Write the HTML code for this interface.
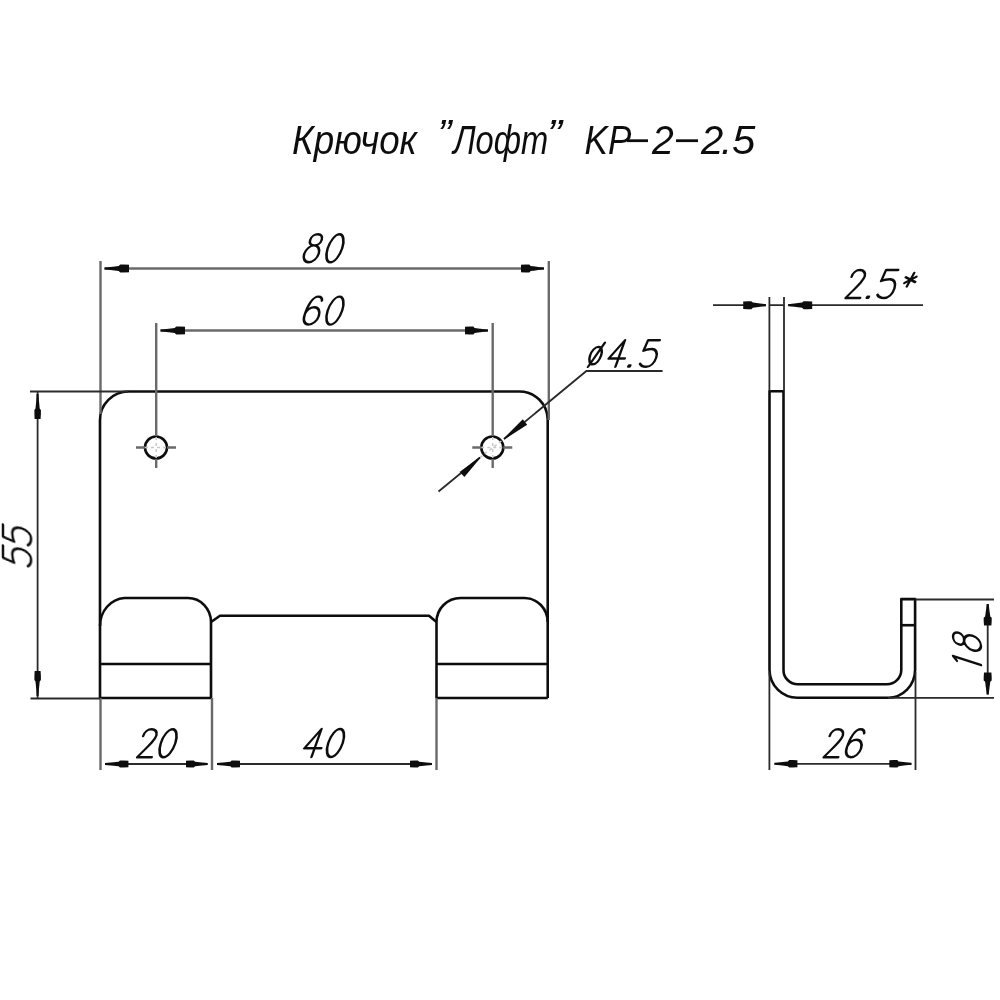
<!DOCTYPE html>
<html><head><meta charset="utf-8"><style>
html,body{margin:0;padding:0;background:#fff;width:1000px;height:1000px;overflow:hidden}
svg{display:block}
text{font-family:"Liberation Sans",sans-serif}
</style></head><body>
<svg width="1000" height="1000" viewBox="0 0 1000 1000">
<defs><filter id="soft" x="0" y="0" width="1000" height="1000" filterUnits="userSpaceOnUse"><feGaussianBlur stdDeviation="0.45"/></filter></defs>
<rect width="1000" height="1000" fill="#fff"/>
<g filter="url(#soft)">
<text transform="translate(292.08,153.5) scale(0.9191,1.03)" font-family="Liberation Sans" font-style="italic" font-size="40" fill="#111">Крючок</text>
<text transform="translate(437.55,148) scale(1.0500,1.0)" font-family="Liberation Sans" font-style="italic" font-size="40" fill="#111">”</text>
<text transform="translate(453.13,153.5) scale(0.8162,1.03)" font-family="Liberation Sans" font-style="italic" font-size="40" fill="#111">Лофт</text>
<text transform="translate(547.12,148) scale(1.1250,1.0)" font-family="Liberation Sans" font-style="italic" font-size="40" fill="#111">”</text>
<text transform="translate(584.62,153.5) scale(0.8750,1.03)" font-family="Liberation Sans" font-style="italic" font-size="40" fill="#111">KP</text>
<rect x="627" y="139.3" width="21" height="2.8" fill="#111"/>
<text transform="translate(652.00,153.5) scale(0.9773,1.03)" font-family="Liberation Sans" font-style="italic" font-size="40" fill="#111">2</text>
<rect x="676" y="139.3" width="22" height="2.8" fill="#111"/>
<text transform="translate(701.00,153.5) scale(1.0000,1.03)" font-family="Liberation Sans" font-style="italic" font-size="40" fill="#111">2</text>
<text transform="translate(721.00,153.5) scale(1.0000,1.0)" font-family="Liberation Sans" font-style="italic" font-size="40" fill="#111">.</text>
<text transform="translate(731.95,153.5) scale(1.0476,1.03)" font-family="Liberation Sans" font-style="italic" font-size="40" fill="#111">5</text>
<g fill="none" stroke="#0d0d0d" stroke-width="2.6" stroke-linejoin="round">
<path d="M100,698 L100,420 A28.5,28.5 0 0 1 128.5,391.5 L519.5,391.5 A28.2,28.2 0 0 1 547.7,419.7 L547.7,698"/>
<path d="M100,626 A26,28 0 0 1 124.5,598 L188,598 A23,24 0 0 1 211,622 L211,698"/>
<path d="M100,664 L211,664 M100,698 L211,698"/>
<path d="M211,622 L220,615.7 L429,615.7 L436.5,622"/>
<path d="M436.5,698 L436.5,622 A24,24 0 0 1 460.5,598 L524.3,598 A23.4,24 0 0 1 547.7,622"/>
<path d="M436.5,664 L547.7,664 M436.5,698 L547.7,698"/>
</g><g fill="none" stroke="#0d0d0d" stroke-width="2.6"><circle cx="156" cy="447.5" r="11"/><circle cx="492.3" cy="447.5" r="11"/>
</g>
<g fill="none" stroke="#6a6a6a" stroke-width="2.4">
<path d="M100.5,261 L100.5,414 M548.8,261 L548.8,420"/>
<path d="M104.5,268.5 L544,268.5"/>
<path d="M156.2,323 L156.2,436 M156.2,459 L156.2,468 M492.7,323 L492.7,436 M492.7,459 L492.7,468"/>
<path d="M160.5,330.5 L488,330.5"/>
<path d="M136,447.5 L145,447.5 M167,447.5 L176,447.5 M472.3,447.5 L481.3,447.5 M503.3,447.5 L512.3,447.5"/>
<path d="M100.5,698 L100.5,770 M212,698 L212,770 M436.5,698 L436.5,770"/>
</g>
<g fill="none" stroke="#c8c8c8" stroke-width="1.5" stroke-dasharray="3 3"><path d="M156.2,437 L156.2,458 M145,447.5 L167,447.5 M492.7,437 L492.7,458 M481.3,447.5 L503.3,447.5 M480,457.5 L504,439"/></g>
<g fill="none" stroke="#2a2a2a" stroke-width="1.8">
<path d="M30,391.5 L128,391.5 M30.5,698.5 L100,698.5"/>
<path d="M37.6,392 L37.6,698"/>
<path d="M105,764 L207.5,764 M217,764 L432,764"/>
<path d="M438.5,491.5 L480,457.5 M504,439 L586.4,371 L662.6,371"/>
</g>
<path d="M104.5,269.5 L110.6,270.1 L118.7,271.1 L120.2,272.5 L124.1,272.5 L129.0,272.2 L129.0,264.8 L124.1,264.5 L120.2,264.5 L118.7,265.9 L110.6,266.9 L104.5,267.5 Z" fill="#111"/>
<path d="M544.0,267.5 L538.2,266.9 L530.7,265.9 L529.3,264.5 L525.6,264.5 L521.0,264.8 L521.0,272.2 L525.6,272.5 L529.3,272.5 L530.7,271.1 L538.2,270.1 L544.0,269.5 Z" fill="#111"/>
<path d="M160.5,331.5 L166.6,332.1 L174.7,333.1 L176.2,334.5 L180.1,334.5 L185.0,334.2 L185.0,326.8 L180.1,326.5 L176.2,326.5 L174.7,327.9 L166.6,328.9 L160.5,329.5 Z" fill="#111"/>
<path d="M488.0,329.5 L482.2,328.9 L474.7,327.9 L473.3,326.5 L469.6,326.5 L465.0,326.8 L465.0,334.2 L469.6,334.5 L473.3,334.5 L474.7,333.1 L482.2,332.1 L488.0,331.5 Z" fill="#111"/>
<path d="M36.6,394.0 L36.3,400.2 L35.5,408.5 L34.4,410.0 L34.4,414.0 L34.6,419.0 L40.6,419.0 L40.9,414.0 L40.9,410.0 L39.7,408.5 L38.9,400.2 L38.6,394.0 Z" fill="#111"/>
<path d="M38.6,696.0 L38.9,689.8 L39.7,681.5 L40.9,680.0 L40.9,676.0 L40.6,671.0 L34.6,671.0 L34.4,676.0 L34.4,680.0 L35.5,681.5 L36.3,689.8 L36.6,696.0 Z" fill="#111"/>
<path d="M105.0,765.0 L110.8,765.4 L118.6,766.3 L120.0,767.5 L123.7,767.5 L128.4,767.2 L128.4,760.8 L123.7,760.5 L120.0,760.5 L118.6,761.7 L110.8,762.6 L105.0,763.0 Z" fill="#111"/>
<path d="M207.6,763.0 L202.2,762.6 L195.1,761.7 L193.8,760.5 L190.3,760.5 L186.0,760.8 L186.0,767.2 L190.3,767.5 L193.8,767.5 L195.1,766.3 L202.2,765.4 L207.6,765.0 Z" fill="#111"/>
<path d="M217.0,765.0 L222.8,765.4 L230.3,766.3 L231.7,767.5 L235.4,767.5 L240.0,767.2 L240.0,760.8 L235.4,760.5 L231.7,760.5 L230.3,761.7 L222.8,762.6 L217.0,763.0 Z" fill="#111"/>
<path d="M432.0,763.0 L426.5,762.6 L419.2,761.7 L417.9,760.5 L414.4,760.5 L410.0,760.8 L410.0,767.2 L414.4,767.5 L417.9,767.5 L419.2,766.3 L426.5,765.4 L432.0,765.0 Z" fill="#111"/>
<path d="M479.7,457.1 L459.6,472.0 L464.4,477.0 L480.3,457.9 Z" fill="#111"/>
<path d="M504.3,439.4 L527.2,424.7 L522.8,419.3 L503.7,438.6 Z" fill="#111"/>
<g transform="translate(301.5,262.3) scale(1.0,0.9650) skewX(-17.223)" fill="none" stroke="#111" stroke-width="2.50" stroke-linecap="round" stroke-linejoin="round"><path transform="translate(0,0)" d="M7.25,-29 C4,-29 1.5,-26.5 1.5,-23.2 C1.5,-20 4,-17.5 7.25,-17.5 C10.5,-17.5 13,-20 13,-23.2 C13,-26.5 10.5,-29 7.25,-29 Z M7.25,-17.5 C3.2,-17.5 0,-13.5 0,-8.75 C0,-3.9 3.2,0 7.25,0 C11.3,0 14.5,-3.9 14.5,-8.75 C14.5,-13.5 11.3,-17.5 7.25,-17.5 Z"/><path transform="translate(21.7,0)" d="M7.25,-29 C3.25,-29 0,-22.5 0,-14.5 C0,-6.5 3.25,0 7.25,0 C11.25,0 14.5,-6.5 14.5,-14.5 C14.5,-22.5 11.25,-29 7.25,-29 Z"/></g>
<g transform="translate(301.5,324.6) scale(1.0,0.9650) skewX(-17.223)" fill="none" stroke="#111" stroke-width="2.50" stroke-linecap="round" stroke-linejoin="round"><path transform="translate(0,0)" d="M12.8,-24.8 C12,-27.8 10,-29 7.8,-29 C2.8,-29 0,-21 0,-10 C0,-3.8 3.2,0 7.25,0 C11.3,0 14.5,-3.9 14.5,-9 C14.5,-14.2 11.3,-18 7.25,-18 C3.8,-18 1,-15.5 0.2,-12"/><path transform="translate(21.7,0)" d="M7.25,-29 C3.25,-29 0,-22.5 0,-14.5 C0,-6.5 3.25,0 7.25,0 C11.25,0 14.5,-6.5 14.5,-14.5 C14.5,-22.5 11.25,-29 7.25,-29 Z"/></g>
<g transform="translate(31,567.5) rotate(-90) scale(1.0,0.9650) skewX(-17.223)" fill="none" stroke="#111" stroke-width="2.50" stroke-linecap="round" stroke-linejoin="round"><path transform="translate(0,0)" d="M13,-29 L0.8,-29 L-0.5,-17.5 C1.8,-19 4.6,-19.5 7.5,-19.5 C12,-19.5 15.2,-15.5 15.2,-9.8 C15.2,-3.8 12,0 8,0 C4.5,0 1.8,-1.3 0.2,-3.4"/><path transform="translate(21,0)" d="M13,-29 L0.8,-29 L-0.5,-17.5 C1.8,-19 4.6,-19.5 7.5,-19.5 C12,-19.5 15.2,-15.5 15.2,-9.8 C15.2,-3.8 12,0 8,0 C4.5,0 1.8,-1.3 0.2,-3.4"/></g>
<g transform="translate(137.2,757.2) scale(1.0,0.9650) skewX(-17.223)" fill="none" stroke="#111" stroke-width="2.50" stroke-linecap="round" stroke-linejoin="round"><path transform="translate(0,0)" d="M-0.8,-22 C-0.8,-26.5 1.8,-29 5.2,-29 C9,-29 12.2,-26.3 12.2,-22.5 C12.2,-17.5 8,-12.5 0,0 L14.5,0"/><path transform="translate(19.1,0)" d="M7.25,-29 C3.25,-29 0,-22.5 0,-14.5 C0,-6.5 3.25,0 7.25,0 C11.25,0 14.5,-6.5 14.5,-14.5 C14.5,-22.5 11.25,-29 7.25,-29 Z"/></g>
<g transform="translate(301,757) scale(1.0,0.9650) skewX(-17.223)" fill="none" stroke="#111" stroke-width="2.50" stroke-linecap="round" stroke-linejoin="round"><path transform="translate(0,0)" d="M10.5,0 L11.5,-29 L0.5,-9 L17.5,-9"/><path transform="translate(22.75,0)" d="M7.25,-29 C3.25,-29 0,-22.5 0,-14.5 C0,-6.5 3.25,0 7.25,0 C11.25,0 14.5,-6.5 14.5,-14.5 C14.5,-22.5 11.25,-29 7.25,-29 Z"/></g>
<g transform="translate(588,366.8) scale(0.95,0.9167) skewX(-17.223)" fill="none" stroke="#111" stroke-width="2.63" stroke-linecap="round" stroke-linejoin="round"><path transform="translate(0,0)" d="M4.2,-21.7 C1,-21.7 -1.6,-17.5 -1.6,-12.2 C-1.6,-6.9 1,-2.7 4.2,-2.7 C7.4,-2.7 10,-6.9 10,-12.2 C10,-17.5 7.4,-21.7 4.2,-21.7 Z M0,0 L9.6,-26.2"/><path transform="translate(18.4,0)" d="M10.5,0 L11.5,-29 L0.5,-9 L17.5,-9"/><path transform="translate(41.5,0)" d="M1.0,-1.4 L2.6,-1.4 L2.4,-0.3 L0.8,-0.3 Z"/><path transform="translate(53.5,0)" d="M13,-29 L0.8,-29 L-0.5,-17.5 C1.8,-19 4.6,-19.5 7.5,-19.5 C12,-19.5 15.2,-15.5 15.2,-9.8 C15.2,-3.8 12,0 8,0 C4.5,0 1.8,-1.3 0.2,-3.4"/></g>
<g fill="none" stroke="#0d0d0d" stroke-width="2.6" stroke-linejoin="round">
<path d="M769.5,391.3 L769.5,670 A28,28 0 0 0 797.5,697.7 L888,697.7 A27,28 0 0 0 915.1,670 L915.1,599.1 L901.3,599.1 L901.3,670 A14.5,14.5 0 0 1 886.8,684.3 L798,684.3 A14.8,14 0 0 1 783.5,670 L783.5,391.3 Z"/>
<path d="M901.3,625.2 L915.1,625.2"/>
</g>
<g fill="none" stroke="#2a2a2a" stroke-width="1.8">
<path d="M769.4,297 L769.4,391 M784,297 L784,391"/>
<path d="M713,305.2 L766,305.2 M769.4,305.2 L784,305.2 M788,305.2 L923,305.2"/>
<path d="M915.5,599.5 L994,599.5 M888,697.8 L994,697.8"/>
<path d="M987.7,604 L987.7,694"/>
<path d="M769.4,672 L769.4,770 M915.5,672 L915.5,770"/>
<path d="M774.5,763.8 L911.4,763.8"/>
</g>
<path d="M766.0,304.2 L760.3,303.6 L752.8,302.6 L751.4,301.2 L747.8,301.2 L743.2,301.5 L743.2,308.9 L747.8,309.2 L751.4,309.2 L752.8,307.8 L760.3,306.8 L766.0,306.2 Z" fill="#111"/>
<path d="M788.2,306.2 L794.2,306.8 L802.1,307.8 L803.6,309.2 L807.4,309.2 L812.2,308.9 L812.2,301.5 L807.4,301.2 L803.6,301.2 L802.1,302.6 L794.2,303.6 L788.2,304.2 Z" fill="#111"/>
<path d="M986.7,604.0 L986.1,609.4 L985.1,616.5 L983.7,617.8 L983.7,621.2 L984.0,625.5 L991.4,625.5 L991.7,621.2 L991.7,617.8 L990.3,616.5 L989.3,609.4 L988.7,604.0 Z" fill="#111"/>
<path d="M988.7,694.8 L989.3,689.2 L990.3,681.8 L991.7,680.5 L991.7,676.9 L991.4,672.4 L984.0,672.4 L983.7,676.9 L983.7,680.5 L985.1,681.8 L986.1,689.2 L986.7,694.8 Z" fill="#111"/>
<path d="M774.5,764.8 L780.2,765.3 L787.8,766.2 L789.2,767.5 L792.8,767.5 L797.4,767.2 L797.4,760.3 L792.8,760.0 L789.2,760.0 L787.8,761.4 L780.2,762.3 L774.5,762.8 Z" fill="#111"/>
<path d="M911.4,762.8 L905.9,762.3 L898.6,761.4 L897.3,760.0 L893.7,760.0 L889.3,760.3 L889.3,767.2 L893.7,767.5 L897.3,767.5 L898.6,766.2 L905.9,765.3 L911.4,764.8 Z" fill="#111"/>
<g transform="translate(845.6,298) scale(1.0,0.9650) skewX(-17.223)" fill="none" stroke="#111" stroke-width="2.50" stroke-linecap="round" stroke-linejoin="round"><path transform="translate(0,0)" d="M-0.8,-22 C-0.8,-26.5 1.8,-29 5.2,-29 C9,-29 12.2,-26.3 12.2,-22.5 C12.2,-17.5 8,-12.5 0,0 L14.5,0"/><path transform="translate(20.3,0)" d="M1.0,-1.4 L2.6,-1.4 L2.4,-0.3 L0.8,-0.3 Z"/><path transform="translate(30.6,0)" d="M13,-29 L0.8,-29 L-0.5,-17.5 C1.8,-19 4.6,-19.5 7.5,-19.5 C12,-19.5 15.2,-15.5 15.2,-9.8 C15.2,-3.8 12,0 8,0 C4.5,0 1.8,-1.3 0.2,-3.4"/><path transform="translate(52,0)" d="M8.5,-26 L5.5,-12 M1.5,-21.5 L12.5,-16.5 M2,-15.5 L12,-22"/></g>
<g transform="translate(981,666) rotate(-90) scale(1.0,0.9650) skewX(-17.223)" fill="none" stroke="#111" stroke-width="2.50" stroke-linecap="round" stroke-linejoin="round"><path transform="translate(-9,0)" d="M6.5,-25 L10,-29 L10,0"/><path transform="translate(13,0)" d="M7.25,-29 C4,-29 1.5,-26.5 1.5,-23.2 C1.5,-20 4,-17.5 7.25,-17.5 C10.5,-17.5 13,-20 13,-23.2 C13,-26.5 10.5,-29 7.25,-29 Z M7.25,-17.5 C3.2,-17.5 0,-13.5 0,-8.75 C0,-3.9 3.2,0 7.25,0 C11.3,0 14.5,-3.9 14.5,-8.75 C14.5,-13.5 11.3,-17.5 7.25,-17.5 Z"/></g>
<g transform="translate(823.7,757.2) scale(1.0,0.9650) skewX(-17.223)" fill="none" stroke="#111" stroke-width="2.50" stroke-linecap="round" stroke-linejoin="round"><path transform="translate(0,0)" d="M-0.8,-22 C-0.8,-26.5 1.8,-29 5.2,-29 C9,-29 12.2,-26.3 12.2,-22.5 C12.2,-17.5 8,-12.5 0,0 L14.5,0"/><path transform="translate(20.05,0)" d="M12.8,-24.8 C12,-27.8 10,-29 7.8,-29 C2.8,-29 0,-21 0,-10 C0,-3.8 3.2,0 7.25,0 C11.3,0 14.5,-3.9 14.5,-9 C14.5,-14.2 11.3,-18 7.25,-18 C3.8,-18 1,-15.5 0.2,-12"/></g>
</g>
</svg>
</body></html>
